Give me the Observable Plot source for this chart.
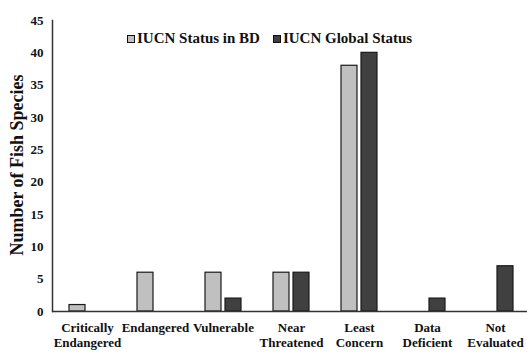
<!DOCTYPE html>
<html>
<head>
<meta charset="utf-8">
<script src="https://cdn.jsdelivr.net/npm/d3@7"></script>
<script src="https://cdn.jsdelivr.net/npm/@observablehq/plot@0.6"></script>
<style>
  body { margin: 0; background: #fff; }
  #wrap { position: relative; width: 527px; height: 353px; }
  .legend { position: absolute; top: 30px; left: 127px; display: flex; align-items: center;
    font-family: "Liberation Serif", "Times New Roman", serif; font-weight: bold; font-size: 15px; color: #111; white-space: nowrap; }
  .sw { display: inline-block; width: 6px; height: 6px; border: 1px solid #111; margin-right: 2px; }
</style>
</head>
<body>
<div id="wrap"></div>
<script>
const categories = ["Critically\nEndangered", "Endangered", "Vulnerable", "Near\nThreatened", "Least\nConcern", "Data\nDeficient", "Not\nEvaluated"];
const seriesNames = ["IUCN Status in BD", "IUCN Global Status"];
const bdValues = [1, 6, 6, 6, 38, 0, 0];
const globalValues = [0, 0, 2, 6, 40, 2, 7];
const colors = ["#c0c0c0", "#404040"];
const yTicks = [0, 5, 10, 15, 20, 25, 30, 35, 40, 45];

const bd = categories.map((c, i) => ({category: c, value: bdValues[i]})).filter(d => d.value > 0);
const gl = categories.map((c, i) => ({category: c, value: globalValues[i]})).filter(d => d.value > 0);

const FONT = "'Liberation Serif', 'Times New Roman', serif";

const chart = Plot.plot({
  width: 527,
  height: 353,
  marginLeft: 52,
  marginRight: -3,
  marginTop: 20,
  marginBottom: 42,
  style: {fontFamily: FONT, fontWeight: "bold", fontSize: "13px", color: "#111", background: "#fff"},
  x: {domain: categories, padding: 0, label: null},
  y: {domain: [0, 45], label: null},
  marks: [
    Plot.axisX({tickSize: 0, tickPadding: 10, lineHeight: 1.15, fontSize: 13}),
    Plot.axisY({ticks: yTicks, tickSize: 0, tickPadding: 9, fontSize: 13}),
    Plot.barY(bd, {x: "category", y: "value", fill: colors[0], stroke: "#1a1a1a", strokeWidth: 1.2, insetLeft: 16, insetRight: 36}),
    Plot.barY(gl, {x: "category", y: "value", fill: colors[1], stroke: "#1a1a1a", strokeWidth: 1.2, insetLeft: 36, insetRight: 16}),
    Plot.frame({anchor: "left", stroke: "#333", strokeWidth: 1.5}),
    Plot.ruleY([0], {stroke: "#333", strokeWidth: 1.5})
  ]
});
const wrap = document.getElementById("wrap");
wrap.appendChild(chart);
const svg = d3.select(chart);
svg.append("text")
  .attr("transform", "translate(23,165) rotate(-90)")
  .attr("text-anchor", "middle")
  .attr("font-size", 18)
  .attr("font-weight", "bold")
  .attr("font-family", FONT)
  .attr("fill", "#111")
  .text("Number of Fish Species");

const legend = document.createElement("div");
legend.className = "legend";
legend.innerHTML = seriesNames.map((n, i) =>
  `<span class="sw" style="background:${colors[i]}"></span><span style="margin-right:${i === 0 ? 13 : 0}px">${n}</span>`).join("");
wrap.appendChild(legend);
</script>
</body>
</html>
